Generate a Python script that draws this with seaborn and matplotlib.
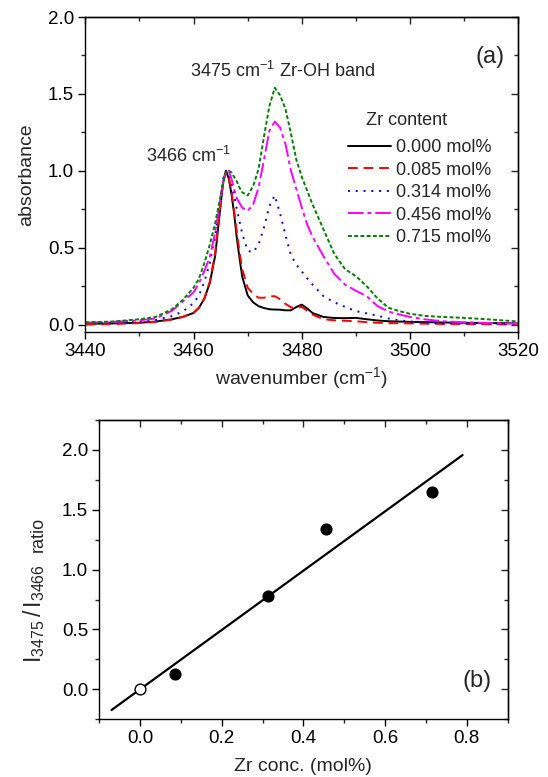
import numpy as np
import pandas as pd
import matplotlib
matplotlib.use("Agg")
import matplotlib.pyplot as plt
import seaborn as sns
from matplotlib.ticker import MultipleLocator

# ---------------- data ----------------
wavenumber = [3440, 3445, 3450, 3453, 3456, 3458, 3460, 3461, 3462, 3463, 3464, 3465,
              3465.5, 3466, 3466.5, 3467, 3467.5, 3468, 3468.5, 3469, 3470, 3471, 3472,
              3473, 3474, 3475, 3476, 3477, 3478, 3479, 3480, 3481, 3482, 3484, 3486,
              3488, 3490, 3492, 3494, 3496, 3498, 3500, 3503, 3506, 3510, 3515, 3520]

abs_0000 = [0.005, 0.008, 0.012, 0.02, 0.035, 0.05, 0.076, 0.11, 0.17, 0.27, 0.45, 0.78,
            0.93, 1.0, 0.95, 0.85, 0.72, 0.56, 0.43, 0.31, 0.19, 0.145, 0.12,
            0.108, 0.10, 0.098, 0.097, 0.093, 0.093, 0.115, 0.13, 0.105, 0.075, 0.05, 0.043,
            0.042, 0.044, 0.035, 0.027, 0.022, 0.02, 0.018, 0.016, 0.014, 0.012, 0.01, 0.008]
abs_0085 = [0.0, 0.004, 0.01, 0.018, 0.033, 0.05, 0.078, 0.11, 0.17, 0.28, 0.47, 0.80,
            0.94, 1.0, 0.96, 0.87, 0.74, 0.60, 0.47, 0.36, 0.24, 0.20, 0.175,
            0.175, 0.183, 0.185, 0.165, 0.135, 0.112, 0.11, 0.115, 0.09, 0.065, 0.035, 0.028,
            0.025, 0.022, 0.016, 0.012, 0.01, 0.009, 0.008, 0.006, 0.004, 0.004, 0.002, 0.0]
abs_0314 = [0.01, 0.013, 0.02, 0.03, 0.056, 0.085, 0.14, 0.19, 0.28, 0.40, 0.58, 0.83,
            0.95, 1.0, 0.98, 0.92, 0.84, 0.75, 0.67, 0.59, 0.48, 0.47, 0.52,
            0.63, 0.77, 0.84, 0.72, 0.58, 0.45, 0.39, 0.345, 0.30, 0.26, 0.185, 0.145,
            0.115, 0.088, 0.073, 0.058, 0.04, 0.028, 0.02, 0.015, 0.01, 0.007, 0.006, 0.005]
abs_0456 = [0.012, 0.018, 0.028, 0.04, 0.09, 0.15, 0.21, 0.27, 0.35, 0.44, 0.60, 0.82,
            0.93, 0.99, 1.0, 0.95, 0.88, 0.82, 0.79, 0.76, 0.74, 0.78, 0.89,
            1.07, 1.26, 1.32, 1.28, 1.17, 1.0, 0.88, 0.76, 0.65, 0.57, 0.445, 0.33,
            0.26, 0.22, 0.185, 0.12, 0.085, 0.066, 0.05, 0.033, 0.022, 0.015, 0.01, 0.007]
abs_0715 = [0.015, 0.02, 0.035, 0.05, 0.10, 0.16, 0.24, 0.30, 0.40, 0.52, 0.66, 0.84,
            0.93, 0.99, 1.0, 0.99, 0.96, 0.93, 0.89, 0.86, 0.84, 0.90, 1.01,
            1.22, 1.42, 1.54, 1.49, 1.40, 1.24, 1.07, 0.96, 0.87, 0.78, 0.62, 0.46,
            0.36, 0.315, 0.25, 0.17, 0.11, 0.088, 0.07, 0.056, 0.05, 0.044, 0.033, 0.02]

series_labels = ["0.000 mol%", "0.085 mol%", "0.314 mol%", "0.456 mol%", "0.715 mol%"]
series_values = [abs_0000, abs_0085, abs_0314, abs_0456, abs_0715]

zr_conc = [0.0, 0.085, 0.314, 0.456, 0.715]
ratio = [0.0, 0.126, 0.778, 1.339, 1.648]
fit_range = [-0.07, 0.79]

# ---------------- style ----------------
sns.set_style("ticks")
plt.rcParams["font.family"] = ["Liberation Sans", "DejaVu Sans"]
plt.rcParams["mathtext.fontset"] = "custom"
plt.rcParams["mathtext.rm"] = "Liberation Sans"
plt.rcParams["mathtext.it"] = "Liberation Sans:italic"
plt.rcParams["axes.linewidth"] = 1.0

colors = ["#000000", "#ff0000", "#0000ff", "#ff00ff", "#008000"]
styles = ["-", (0, (5, 3)), (0, (1, 3)), (0, (8, 2, 2, 2)), (0, (2, 1.2))]
FS = 13
TFS = 13.5
LFS = 14

fig = plt.figure(figsize=(5.48, 7.77), dpi=100)
ax1 = fig.add_axes([0.1557, 0.5723, 0.7901, 0.4058])
ax2 = fig.add_axes([0.1812, 0.0743, 0.7449, 0.3852])


def style_axes(ax, xmaj, xmin, ymaj, ymin):
    ax.xaxis.set_major_locator(MultipleLocator(xmaj))
    ax.xaxis.set_minor_locator(MultipleLocator(xmin))
    ax.yaxis.set_major_locator(MultipleLocator(ymaj))
    ax.yaxis.set_minor_locator(MultipleLocator(ymin))
    ax.tick_params(which="major", direction="out", length=5, width=1,
                   labelsize=TFS, pad=3, colors="black")
    ax.tick_params(which="minor", direction="out", length=3, width=1)
    for s in ax.spines.values():
        s.set_visible(True)
        s.set_color("black")
        s.set_linewidth(1.0)
    top = ax.secondary_xaxis("top")
    top.xaxis.set_major_locator(MultipleLocator(xmaj))
    top.xaxis.set_minor_locator(MultipleLocator(xmin))
    top.tick_params(which="major", direction="in", length=5, width=1, labeltop=False)
    top.tick_params(which="minor", direction="in", length=3, width=1)
    right = ax.secondary_yaxis("right")
    right.yaxis.set_major_locator(MultipleLocator(ymaj))
    right.yaxis.set_minor_locator(MultipleLocator(ymin))
    right.tick_params(which="major", direction="in", length=5, width=1, labelright=False)
    right.tick_params(which="minor", direction="in", length=3, width=1)


# ---------------- panel (a) ----------------
for lab, vals, c, ls in zip(series_labels, series_values, colors, styles):
    df = pd.DataFrame({"wn": wavenumber, "A": vals})
    sns.lineplot(data=df, x="wn", y="A", ax=ax1, color=c, linestyle=ls,
                 linewidth=1.4, label=lab, sort=True, estimator=None)

ax1.set_xlim(3440, 3520)
ax1.set_ylim(-0.05, 2.0)
style_axes(ax1, 20, 10, 0.5, 0.25)
ax1.set_xlabel("wavenumber (cm$^{-1}$)", fontsize=LFS, labelpad=3)
ax1.set_ylabel("absorbance", fontsize=LFS, labelpad=9)

ax1.text(3459.4, 1.61, "3475 cm$^{-1}$ Zr-OH band", fontsize=FS, ha="left", va="baseline")
ax1.text(3451.2, 1.06, "3466 cm$^{-1}$", fontsize=FS, ha="left", va="baseline")
ax1.text(3517.5, 1.74, "(a)", fontsize=17, ha="right", va="center")
ax1.text(3491.9, 1.325, "Zr content", fontsize=FS, ha="left", va="center")

leg = ax1.legend(loc="upper left", bbox_to_anchor=(0.607, 0.612),
                 frameon=False, fontsize=FS, handlelength=2.35,
                 handletextpad=0.3, labelspacing=0.3, borderpad=0, borderaxespad=0)

# ---------------- panel (b) ----------------
slope, intercept = np.polyfit(zr_conc, ratio, 1)
fit_x = np.array(fit_range)
fit_df = pd.DataFrame({"x": fit_x, "y": slope * fit_x + intercept})
sns.lineplot(data=fit_df, x="x", y="y", ax=ax2, color="black", linewidth=1.6,
             estimator=None)

pts = pd.DataFrame({"x": zr_conc, "y": ratio})
sns.scatterplot(data=pts.iloc[1:], x="x", y="y", ax=ax2, s=60, color="black",
                edgecolor="black", linewidth=1, zorder=5)
sns.scatterplot(data=pts.iloc[:1], x="x", y="y", ax=ax2, s=60, facecolor="white",
                edgecolor="black", linewidth=1, zorder=5)

ax2.set_xlim(-0.1, 0.9)
ax2.set_ylim(-0.25, 2.25)
style_axes(ax2, 0.2, 0.1, 0.5, 0.25)
ax2.set_xlabel("Zr conc. (mol%)", fontsize=LFS, labelpad=8)
ax2.set_ylabel(r"$\mathregular{I_{3475}\,/\,I_{3466}}$", fontsize=16.5)
ax2.yaxis.set_label_coords(-0.128, 0.355)
ax2.text(-0.149, 0.616, "ratio", fontsize=FS, rotation=90, ha="center", va="center",
         transform=ax2.transAxes)
ax2.text(0.86, 0.07, "(b)", fontsize=17, ha="right", va="center")

fig.savefig("out.png", dpi=100)
